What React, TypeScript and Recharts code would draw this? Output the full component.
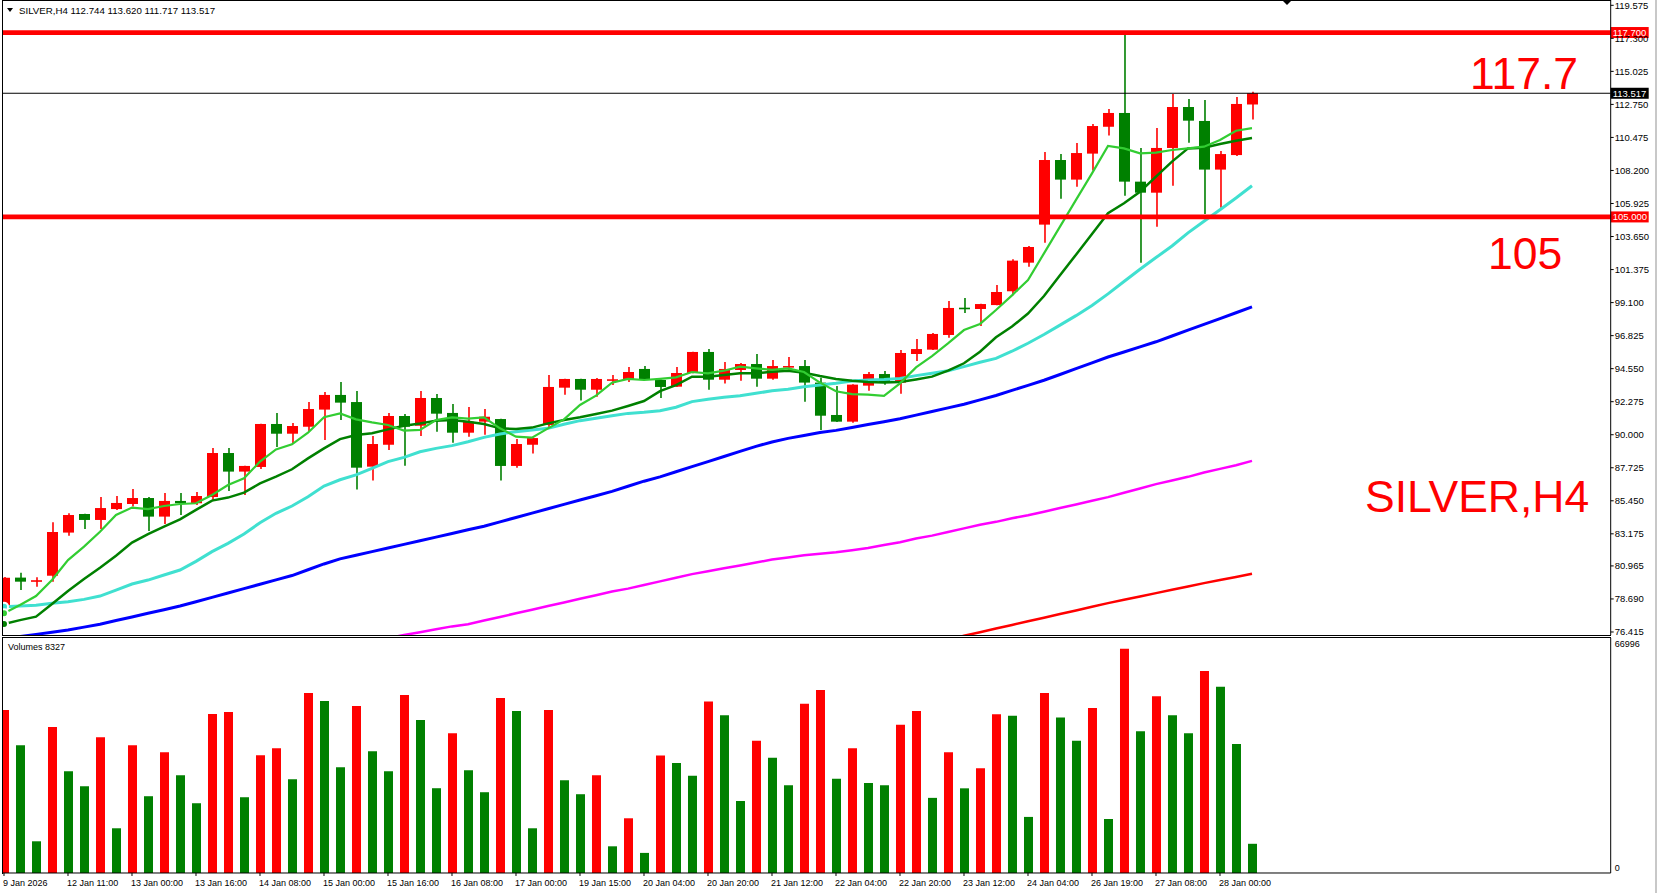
import React from 'react'
import { ComposedChart, Bar, Line, XAxis, YAxis, ReferenceLine, Cell } from 'recharts'

// SILVER H4 candles (red = up bar, green = down bar)
const opens = [
  78.1, 80.16, 79.93, 80.29, 83.26, 84.54, 84.13, 84.88, 85.23, 85.64,
  84.36, 85.44, 85.28, 85.71, 88.74, 87.46, 87.78, 90.74, 90.07, 90.55,
  91.73, 92.74, 92.25, 87.8, 89.31, 91.29, 90.62, 92.53, 91.5, 90.14,
  90.9, 91.08, 87.85, 89.31, 90.67, 93.24, 93.84, 93.1, 93.78, 93.84,
  94.53, 93.77, 93.31, 94.25, 95.7, 93.79, 94.46, 94.87, 93.86, 94.64,
  94.73, 93.59, 91.36, 90.9, 93.38, 94.18, 93.59, 95.56, 95.86, 96.87,
  98.75, 98.66, 98.93, 99.88, 101.85, 104.47, 108.92, 107.57, 109.36, 111.21,
  112.16, 107.43, 106.67, 109.75, 112.57, 111.61, 108.26, 109.26, 112.744,
]
const highs = [
  80.2, 80.5, 80.18, 83.97, 84.59, 84.56, 85.71, 85.78, 86.26, 85.71,
  85.99, 85.99, 86.06, 89.08, 89.08, 87.87, 90.76, 91.5, 90.81, 92.25,
  92.94, 93.63, 93.01, 89.91, 91.5, 91.43, 93.01, 92.8, 92.12, 91.91,
  91.77, 91.1, 89.71, 89.79, 94.11, 93.86, 93.86, 93.91, 94.11, 94.66,
  94.73, 93.8, 94.66, 95.72, 95.9, 95.01, 94.94, 95.56, 95.15, 95.35,
  95.15, 93.93, 93.36, 93.47, 94.32, 94.39, 95.83, 96.59, 97.0, 99.21,
  99.42, 99.02, 100.31, 102.08, 102.99, 109.47, 109.33, 110.09, 111.4, 112.43,
  117.65, 109.75, 111.12, 113.47, 113.12, 113.05, 109.54, 113.26, 113.62,
]
const lows = [
  77.4, 79.3, 79.53, 79.88, 83.05, 83.51, 83.51, 84.82, 85.05, 83.37,
  83.85, 84.47, 85.16, 85.5, 86.12, 85.85, 87.64, 89.15, 89.43, 90.26,
  89.64, 91.01, 86.22, 86.84, 88.95, 87.87, 89.91, 90.21, 89.45, 89.86,
  90.0, 86.84, 87.73, 88.7, 90.42, 92.76, 92.35, 92.62, 93.42, 93.63,
  93.82, 92.53, 93.29, 94.23, 93.1, 93.52, 93.72, 93.31, 93.79, 94.32,
  92.27, 90.32, 90.88, 90.83, 93.03, 93.45, 92.83, 95.08, 95.84, 96.68,
  98.38, 97.49, 98.91, 99.6, 101.57, 103.23, 106.26, 107.08, 108.19, 110.6,
  106.46, 101.85, 104.33, 107.15, 110.11, 105.2, 105.64, 109.2, 111.717,
]
const closes = [
  80.15, 79.88, 79.98, 83.3, 84.47, 84.13, 84.95, 85.3, 85.64, 84.36,
  85.44, 85.28, 85.78, 88.74, 87.46, 87.85, 90.74, 90.07, 90.6, 91.77,
  92.74, 92.21, 87.73, 89.36, 91.29, 90.55, 92.53, 91.45, 90.14, 90.9,
  91.24, 87.85, 89.36, 89.77, 93.29, 93.84, 93.1, 93.84, 93.82, 94.32,
  93.84, 93.29, 94.25, 95.7, 93.79, 94.53, 94.87, 93.86, 94.73, 94.73,
  93.59, 91.31, 90.9, 93.45, 94.18, 93.59, 95.63, 95.9, 96.94, 98.73,
  98.72, 99.0, 99.83, 101.99, 102.93, 108.92, 107.57, 109.4, 111.26, 112.16,
  107.43, 106.67, 109.75, 112.57, 111.63, 108.26, 109.33, 112.78, 113.517,
]

// moving averages as drawn on the chart
const maFast = [
  77.7, 78.27, 78.89, 80.0, 81.37, 82.29, 83.32, 84.47, 84.98, 84.88,
  85.09, 85.23, 85.28, 85.85, 86.54, 87.0, 88.15, 88.99, 89.34, 90.14,
  91.2, 91.47, 91.06, 90.85, 90.67, 90.28, 90.33, 91.01, 91.2, 91.11,
  91.2, 90.44, 89.87, 89.8, 90.44, 91.06, 92.05, 92.69, 93.58, 93.84,
  93.77, 93.85, 93.95, 94.32, 94.23, 94.41, 94.69, 94.57, 94.46, 94.57,
  94.32, 93.59, 92.99, 92.8, 92.76, 92.67, 93.54, 94.64, 95.42, 96.29,
  97.21, 97.63, 98.59, 99.6, 100.66, 102.49, 104.33, 106.17, 108.0, 109.89,
  109.72, 109.38, 109.43, 109.61, 109.72, 109.84, 110.3, 110.94, 111.12,
]
const maMid = [
  76.97, 77.23, 77.47, 78.34, 79.24, 80.06, 80.84, 81.67, 82.57, 83.16,
  83.67, 84.17, 84.82, 85.46, 85.67, 86.01, 86.65, 87.11, 87.62, 88.37,
  89.06, 89.7, 89.98, 90.1, 90.37, 90.62, 90.78, 90.97, 91.01, 90.9,
  90.74, 90.44, 90.39, 90.49, 90.78, 91.01, 91.2, 91.43, 91.66, 91.98,
  92.32, 93.0, 93.42, 94.0, 94.0, 94.11, 94.23, 94.23, 94.34, 94.41,
  94.27, 94.04, 93.84, 93.72, 93.63, 93.59, 93.63, 93.81, 94.0, 94.41,
  94.92, 95.72, 96.71, 97.45, 98.35, 99.55, 100.98, 102.4, 103.82, 105.25,
  105.94, 106.74, 107.77, 108.81, 109.72, 109.77, 110.02, 110.25, 110.44,
]
const maSlow = [
  78.16, 78.2, 78.25, 78.39, 78.5, 78.66, 78.89, 79.3, 79.72, 79.99,
  80.34, 80.68, 81.28, 81.95, 82.52, 83.16, 83.94, 84.59, 85.09, 85.73,
  86.47, 86.9, 87.23, 87.69, 88.15, 88.44, 88.83, 89.06, 89.25, 89.52,
  89.82, 90.05, 90.21, 90.33, 90.44, 90.72, 90.97, 91.13, 91.31, 91.47,
  91.54, 91.65, 91.89, 92.28, 92.44, 92.58, 92.69, 92.85, 93.03, 93.13,
  93.31, 93.42, 93.54, 93.7, 93.77, 93.81, 93.88, 94.07, 94.23, 94.41,
  94.69, 94.99, 95.26, 95.75, 96.3, 96.9, 97.55, 98.2, 98.9, 99.7,
  100.55, 101.4, 102.2, 103.0, 103.9, 104.7, 105.5, 106.3, 107.15,
]
const ma50 = [
  75.95, 76.1, 76.25, 76.4, 76.55, 76.75, 76.95, 77.2, 77.45, 77.7,
  77.95, 78.2, 78.5, 78.8, 79.1, 79.4, 79.7, 80.0, 80.3, 80.7,
  81.1, 81.45, 81.7, 81.95, 82.2, 82.45, 82.7, 82.95, 83.2, 83.45,
  83.7, 84.0, 84.3, 84.6, 84.9, 85.2, 85.5, 85.8, 86.1, 86.45,
  86.8, 87.1, 87.45, 87.8, 88.15, 88.5, 88.85, 89.2, 89.5, 89.75,
  89.95, 90.15, 90.3, 90.5, 90.7, 90.9, 91.1, 91.35, 91.6, 91.85,
  92.1, 92.4, 92.7, 93.05, 93.4, 93.75, 94.15, 94.55, 94.95, 95.35,
  95.7, 96.05, 96.4, 96.8, 97.2, 97.6, 98.0, 98.4, 98.8,
]
const ma100 = [
  null, null, null, null, null, null, null, null, null, null,
  null, null, null, null, null, null, null, null, null, null,
  null, null, null, 75.8, 76.0, 76.2, 76.4, 76.6, 76.8, 76.95,
  77.2, 77.45, 77.7, 77.95, 78.2, 78.45, 78.7, 78.95, 79.2, 79.4,
  79.65, 79.9, 80.15, 80.4, 80.6, 80.8, 81.0, 81.2, 81.4, 81.55,
  81.7, 81.8, 81.9, 82.05, 82.2, 82.4, 82.6, 82.85, 83.05, 83.3,
  83.55, 83.8, 84.0, 84.25, 84.45, 84.7, 84.95, 85.2, 85.45, 85.7,
  86.0, 86.3, 86.6, 86.85, 87.1, 87.4, 87.65, 87.9, 88.2,
]
const ma200 = [
  null, null, null, null, null, null, null, null, null, null,
  null, null, null, null, null, null, null, null, null, null,
  null, null, null, null, null, null, null, null, null, null,
  null, null, null, null, null, null, null, null, null, null,
  null, null, null, null, null, null, null, null, null, null,
  null, null, null, null, null, null, null, null, null, 75.9,
  76.15, 76.4, 76.65, 76.9, 77.15, 77.4, 77.65, 77.9, 78.15, 78.4,
  78.63, 78.86, 79.09, 79.32, 79.55, 79.78, 80.0, 80.2, 80.42,
]

const volumes = [
  46440, 36450, 9040, 41590, 29030, 24740, 38730, 12750, 36450, 21890,
  34450, 27880, 19890, 45300, 45870, 21600, 33590, 35590, 26740, 51300,
  49010, 30170, 47580, 34730, 29030, 50720, 43590, 24170, 39870, 29310,
  23030, 49870, 46150, 12750, 46440, 26450, 22460, 27880, 7610, 15600,
  5730, 33490, 31380, 27760, 48880, 44950, 20520, 37710, 32890, 25040,
  48270, 52190, 26850, 35600, 25640, 25040, 42240, 46160, 21420, 34390,
  24140, 29870, 45260, 44800, 15990, 51290, 44350, 37710, 47070, 15390,
  63960, 40430, 50380, 44950, 39820, 57620, 53100, 36810, 8327,
]
// 1 = red volume bar, 0 = green
const volRed = [
  1, 0, 0, 1, 0, 0, 1, 0, 1, 0,
  1, 0, 0, 1, 1, 0, 1, 1, 0, 1,
  0, 0, 1, 0, 0, 1, 0, 0, 1, 0,
  0, 1, 0, 0, 1, 0, 0, 1, 0, 1,
  0, 1, 0, 0, 1, 0, 0, 1, 0, 0,
  1, 1, 0, 1, 0, 0, 1, 1, 0, 1,
  0, 1, 1, 0, 0, 1, 0, 0, 1, 0,
  1, 0, 1, 0, 0, 1, 0, 0, 0,
]

const timeLabels = [
  '9 Jan 2026', '12 Jan 11:00', '13 Jan 00:00', '13 Jan 16:00', '14 Jan 08:00',
  '15 Jan 00:00', '15 Jan 16:00', '16 Jan 08:00', '17 Jan 00:00', '19 Jan 15:00',
  '20 Jan 04:00', '20 Jan 20:00', '21 Jan 12:00', '22 Jan 04:00', '22 Jan 20:00',
  '23 Jan 12:00', '24 Jan 04:00', '26 Jan 19:00', '27 Jan 08:00', '28 Jan 00:00',
]
const timeTickIdx = timeLabels.map((_, k) => k * 4)

const priceTicks = [
  119.575, 117.3, 115.025, 112.75, 110.475, 108.2, 105.925, 103.65, 101.375, 99.1,
  96.825, 94.55, 92.275, 90.0, 87.725, 85.45, 83.175, 80.965, 78.69, 76.415,
]
const levels = [117.7, 105.0]
const VOL_MAX = 66996

const SLOTS = 100
const rows = Array.from({ length: SLOTS }, (_, i) =>
  i < opens.length
    ? {
        i,
        o: opens[i], h: highs[i], l: lows[i], c: closes[i],
        range: [lows[i], highs[i]],
        f: maFast[i], m: maMid[i], s: maSlow[i], b: ma50[i], p: ma100[i], r: ma200[i],
        v: volumes[i],
      }
    : { i },
)

const FONT = '"Liberation Sans", Arial, sans-serif'
const RED = '#ff0000'
const GREEN = '#008000'
const CW = 1660.7
const PAD_R = 14.7

function Candle(props: any) {
  const { x, y, width, height, payload } = props
  if (payload == null || payload.o == null) return null
  const { o, h, l, c } = payload
  const top = Math.min(y, y + height)
  const span = Math.abs(height)
  const k = span / (h - l)
  const yOf = (v: number) => top + (h - v) * k
  const color = c >= o ? RED : GREEN
  const cx = Math.round(x + width / 2)
  const b0 = yOf(Math.max(o, c))
  const b1 = yOf(Math.min(o, c))
  return (
    <g>
      <line x1={cx} x2={cx} y1={top} y2={top + span} stroke={color} strokeWidth={1.6} />
      <rect x={x} y={b0} width={width} height={Math.max(b1 - b0, 1.6)} fill={color} />
    </g>
  )
}

function PriceBox(props: any) {
  const { viewBox, text, bg } = props
  if (!viewBox) return null
  const x = viewBox.x + viewBox.width
  const y = viewBox.y
  return (
    <g>
      <rect x={x} y={y - 5.5} width={38} height={11} fill={bg} />
      <text x={x + 2} y={y} dy="0.36em" fill="#fff" fontSize={9.5} fontFamily={FONT}>
        {text}
      </text>
    </g>
  )
}

function TimeTick(props: any) {
  const { x, y, payload } = props
  const k = timeTickIdx.indexOf(payload.value)
  if (k < 0) return null
  return (
    <text x={x - 1} y={y} dy={8} fontSize={9} fontFamily={FONT} fill="#000" textAnchor="start">
      {timeLabels[k]}
    </text>
  )
}

function VolTick(props: any) {
  const { x, y, payload } = props
  const top = payload.value > 0
  return (
    <text x={x + 2} y={top ? y + 6 : y - 5} dy="0.36em" fontSize={9} fontFamily={FONT} fill="#000">
      {payload.value}
    </text>
  )
}

export default function App() {
  return (
    <div
      style={{
        position: 'absolute', left: 0, top: 0, width: 1657, height: 893,
        overflow: 'hidden', background: '#fff', fontFamily: FONT,
      }}
    >
      <div style={{ position: 'absolute', left: -3.7, top: 0 }}>
        <ComposedChart width={CW} height={640} data={rows} margin={{ top: 0, right: 0, left: 0, bottom: 5 }}>
          <XAxis dataKey="i" type="category" hide padding={{ left: 0, right: PAD_R }} />
          <YAxis
            orientation="right"
            width={46}
            domain={[76.207, 119.94]}
            allowDataOverflow
            ticks={priceTicks}
            interval={0}
            tickFormatter={(v: number) => v.toFixed(3)}
            tick={{ fontSize: 9.5, fill: '#000', fontFamily: FONT }}
            tickSize={3}
            tickMargin={1}
            axisLine={{ stroke: '#000' }}
            tickLine={{ stroke: '#000' }}
          />
          <Bar dataKey="range" barSize={11} shape={<Candle />} isAnimationActive={false} />
          <Line dataKey="r" stroke="#ff0000" strokeWidth={2.5} dot={false} type="linear" isAnimationActive={false} />
          <Line dataKey="p" stroke="#ff00ff" strokeWidth={2.5} dot={false} type="linear" isAnimationActive={false} />
          <Line dataKey="b" stroke="#0000ff" strokeWidth={3} dot={false} type="linear" isAnimationActive={false} />
          <Line dataKey="s" stroke="#40e0d0" strokeWidth={3} dot={false} type="linear" isAnimationActive={false} />
          <Line dataKey="m" stroke="#008000" strokeWidth={2.5} dot={false} type="linear" isAnimationActive={false} />
          <Line dataKey="f" stroke="#32cd32" strokeWidth={2.2} dot={false} type="linear" isAnimationActive={false} />
          <ReferenceLine
            y={closes[closes.length - 1]}
            stroke="#000"
            strokeWidth={1}
            label={<PriceBox text={closes[closes.length - 1].toFixed(3)} bg="#000" />}
          />
          {levels.map((lv) => (
            <ReferenceLine
              key={lv}
              y={lv}
              stroke={RED}
              strokeWidth={4.8}
              label={<PriceBox text={lv.toFixed(3)} bg={RED} />}
            />
          ))}
        </ComposedChart>
      </div>

      <div style={{ position: 'absolute', left: -3.7, top: 637 }}>
        <ComposedChart width={CW} height={256} data={rows} margin={{ top: 1, right: 0, left: 0, bottom: 0 }}>
          <XAxis
            dataKey="i"
            type="category"
            padding={{ left: 0, right: PAD_R }}
            ticks={timeTickIdx}
            interval={0}
            height={20}
            tickSize={3}
            tickMargin={2}
            tick={<TimeTick />}
            axisLine={{ stroke: '#000' }}
            tickLine={{ stroke: '#000' }}
          />
          <YAxis
            orientation="right"
            width={46}
            domain={[0, VOL_MAX]}
            ticks={[0, VOL_MAX]}
            interval={0}
            tickSize={0}
            tick={<VolTick />}
            axisLine={{ stroke: '#000' }}
          />
          <Bar dataKey="v" barSize={9} isAnimationActive={false}>
            {rows.map((d, i) => (
              <Cell key={i} fill={volRed[i] ? RED : GREEN} />
            ))}
          </Bar>
        </ComposedChart>
      </div>

      <svg
        width={1657}
        height={893}
        style={{ position: 'absolute', left: 0, top: 0, pointerEvents: 'none' }}
      >
        <rect x={0} y={0} width={2.5} height={893} fill="#fff" />
        <line x1={2.5} x2={2.5} y1={0} y2={636} stroke="#000" />
        <line x1={2.5} x2={2.5} y1={637} y2={874} stroke="#000" />
        <line x1={2.5} x2={1611} y1={0.5} y2={0.5} stroke="#000" />
        <line x1={2.5} x2={1611} y1={635.5} y2={635.5} stroke="#000" />
        <line x1={2.5} x2={1611} y1={637.5} y2={637.5} stroke="#000" />
        <rect x={1655} y={0} width={2} height={893} fill="#c8c8c8" />
        <polygon points="1283,1 1291,1 1287,5" fill="#000" />
        <polygon points="7,8 13,8 10,12" fill="#000" />
        <text x={19} y={13.5} fontSize={9.7} fontFamily={FONT} fill="#000">
          {'SILVER,H4  ' + [opens[78], highs[78], lows[78], closes[78]].map((v) => v.toFixed(3)).join(' ')}
        </text>
        <text x={8} y={650} fontSize={9} fontFamily={FONT} fill="#000">
          {'Volumes ' + volumes[volumes.length - 1]}
        </text>
        <text x={1470} y={89} fontSize={44.5} fontFamily={FONT} fill={RED}>117.7</text>
        <text x={1488} y={269} fontSize={44.5} fontFamily={FONT} fill={RED}>105</text>
        <text x={1365} y={512} fontSize={44.5} fontFamily={FONT} fill={RED}>SILVER,H4</text>
      </svg>
    </div>
  )
}
